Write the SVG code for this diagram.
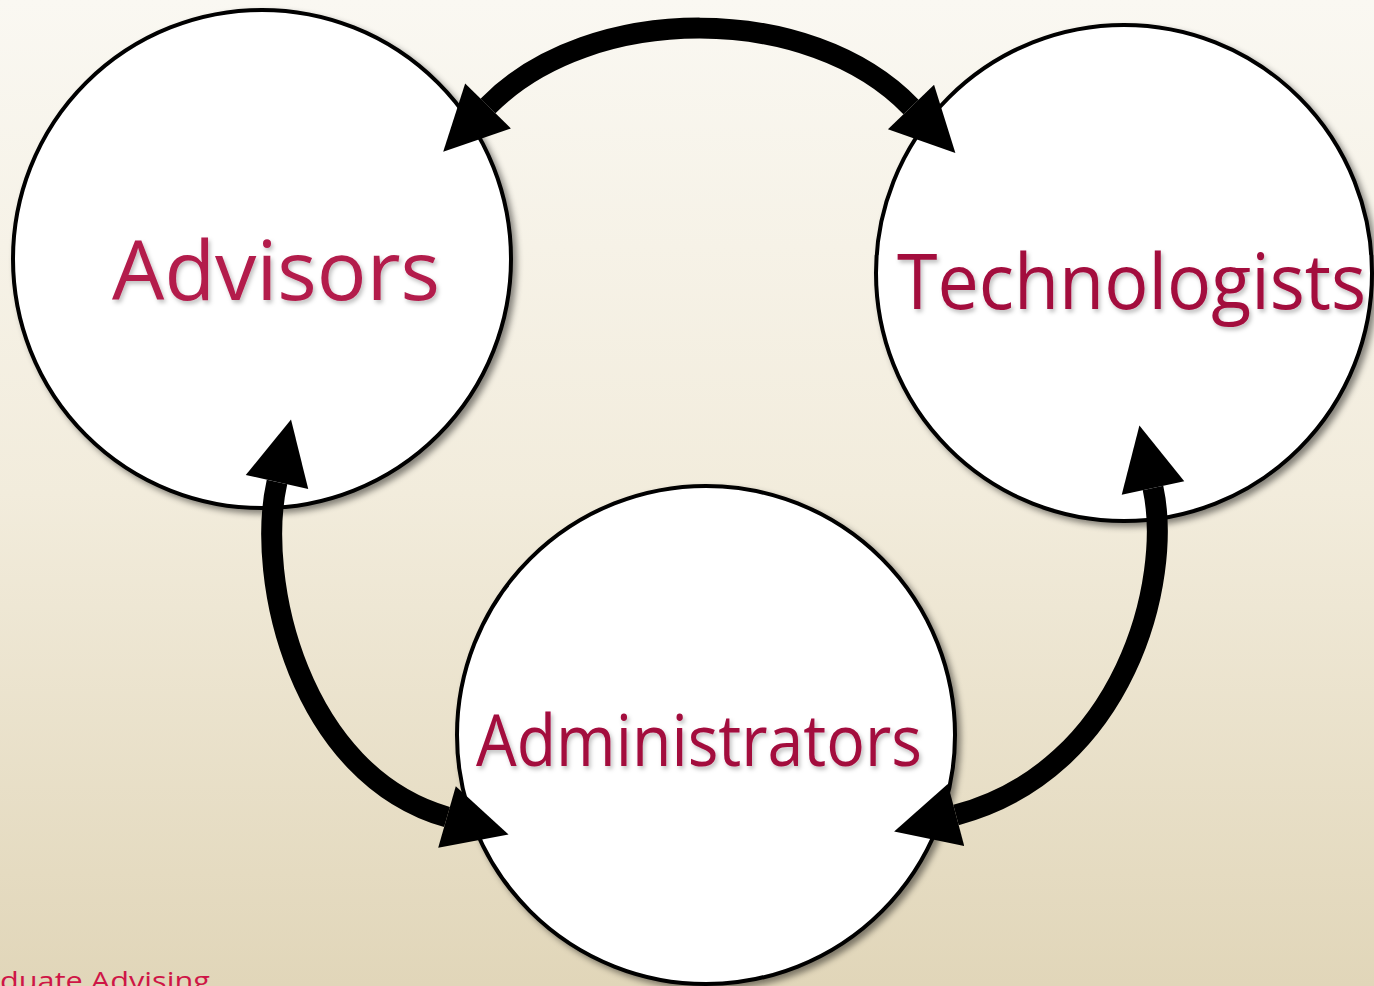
<svg xmlns="http://www.w3.org/2000/svg" width="1374" height="986" viewBox="0 0 1374 986">
  <defs>
    <linearGradient id="bg" x1="0" y1="0" x2="0" y2="1">
      <stop offset="0" stop-color="#faf8f2"/>
      <stop offset="0.5" stop-color="#f2ecdc"/>
      <stop offset="1" stop-color="#e1d6b9"/>
    </linearGradient>
    <filter id="shadow" x="-10%" y="-10%" width="125%" height="125%">
      <feDropShadow dx="4" dy="4" stdDeviation="3" flood-color="#000" flood-opacity="0.45"/>
    </filter>
    <filter id="tshadow" x="-5%" y="-10%" width="115%" height="130%">
      <feDropShadow dx="2" dy="3" stdDeviation="2" flood-color="#000" flood-opacity="0.25"/>
    </filter>
    <marker id="head" viewBox="0 -32 64 64" refX="0" refY="0" markerWidth="64" markerHeight="64" markerUnits="userSpaceOnUse" orient="auto-start-reverse" overflow="visible">
      <path d="M0,-32 L64,0 L0,32 Z" fill="#000"/>
    </marker>
    <style>
      .node { fill: #ffffff; stroke: #000000; stroke-width: 4; filter: url(#shadow); }
      .label { font-family: "Open Sans", "Noto Sans", "Liberation Sans", sans-serif; filter: url(#tshadow); }
      .conn { fill: none; stroke: #000000; stroke-width: 21; marker-start: url(#head); marker-end: url(#head); }
    </style>
  </defs>
  <rect x="0" y="0" width="1374" height="986" fill="url(#bg)"/>

  <g id="advisors">
    <circle class="node" cx="262" cy="259" r="249"/>
    <text class="label" x="112" y="300" font-size="82" fill="#b31c4c" textLength="328" lengthAdjust="spacingAndGlyphs">Advisors</text>
  </g>
  <g id="technologists">
    <circle class="node" cx="1124" cy="273" r="248"/>
    <text class="label" x="897" y="309" font-size="76" fill="#a30a3d" textLength="469" lengthAdjust="spacingAndGlyphs">Technologists</text>
  </g>
  <g id="administrators">
    <circle class="node" cx="706" cy="735" r="249"/>
    <text class="label" x="476" y="766" font-size="72" fill="#a30a3d" textLength="446" lengthAdjust="spacingAndGlyphs">Administrators</text>
  </g>

  <g id="connectors">
    <path class="conn" d="M488,106 C590,2 810,2 911,107"/>
    <path class="conn" d="M277,482 C255,580 300,775 447,817"/>
    <path class="conn" d="M1153,488 C1173,580 1125,770 956,815"/>
  </g>

  <text x="0" y="990" font-family="Open Sans, Noto Sans, Liberation Sans, sans-serif" font-size="26" fill="#cf1547" textLength="210" lengthAdjust="spacingAndGlyphs">duate Advising</text>
</svg>
